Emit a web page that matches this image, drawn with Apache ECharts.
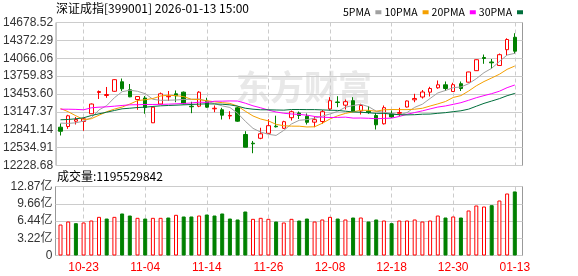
<!DOCTYPE html>
<html>
<head>
<meta charset="utf-8">
<title>深证成指</title>
<script src="https://cdn.jsdelivr.net/npm/echarts@6/dist/echarts.min.js"></script>
<style>
  html, body { margin: 0; padding: 0; background: #fff; }
  #chart { width: 578px; height: 276px; }
</style>
</head>
<body>
<div id="chart"></div>
<script>
// trading days shown on the x axis
const dates = [
  '10-20', '10-21', '10-22', '10-23', '10-24', '10-27', '10-28', '10-29', '10-30', '10-31',
  '11-03', '11-04', '11-05', '11-06', '11-07', '11-10', '11-11', '11-12', '11-13', '11-14',
  '11-17', '11-18', '11-19', '11-20', '11-21', '11-24', '11-25', '11-26', '11-27', '11-28',
  '12-01', '12-02', '12-03', '12-04', '12-05', '12-08', '12-09', '12-10', '12-11', '12-12',
  '12-15', '12-16', '12-17', '12-18', '12-19', '12-22', '12-23', '12-24', '12-25', '12-26',
  '12-29', '12-30', '12-31', '01-05', '01-06', '01-07', '01-08', '01-09', '01-12', '01-13'
]

// [open, close, lowest, highest]
const kline = [
  [12885, 12815, 12743, 12948], [12897, 13080, 12857, 13097], [12988, 13017, 12931, 13060],
  [12983, 13029, 12823, 13051], [13115, 13282, 13111, 13291], [13479, 13496, 13368, 13514],
  [13428, 13445, 13388, 13574], [13500, 13699, 13493, 13707], [13663, 13543, 13505, 13719],
  [13526, 13405, 13399, 13625], [13359, 13410, 13183, 13410], [13385, 13222, 13115, 13419],
  [12960, 13228, 12957, 13239], [13282, 13457, 13274, 13479], [13406, 13416, 13334, 13505],
  [13457, 13423, 13313, 13514], [13485, 13286, 13274, 13496], [13245, 13235, 13125, 13320],
  [13245, 13485, 13228, 13502], [13330, 13228, 13217, 13389], [13200, 13210, 13142, 13257],
  [13183, 13091, 13017, 13217], [13078, 13086, 13022, 13159], [13217, 12988, 12977, 13234],
  [12760, 12542, 12542, 12816], [12611, 12601, 12439, 12649], [12695, 12772, 12679, 12875],
  [12780, 12911, 12772, 13022], [12902, 12892, 12880, 13082], [12866, 12979, 12854, 12995],
  [13048, 13150, 13000, 13171], [13128, 13085, 13025, 13154], [13072, 12969, 12931, 13120],
  [12971, 13014, 12885, 13068], [12983, 13150, 12943, 13180], [13197, 13339, 13171, 13399],
  [13317, 13308, 13228, 13416], [13262, 13322, 13188, 13359], [13339, 13159, 13149, 13399],
  [13162, 13257, 13102, 13286], [13159, 13137, 13115, 13248], [13085, 12926, 12845, 13128],
  [12943, 13219, 12931, 13257], [13111, 13060, 13046, 13171], [13123, 13137, 13074, 13217],
  [13231, 13334, 13222, 13342], [13354, 13377, 13313, 13457], [13402, 13488, 13376, 13522],
  [13485, 13548, 13411, 13577], [13560, 13611, 13543, 13685], [13611, 13548, 13505, 13668],
  [13496, 13613, 13488, 13646], [13630, 13548, 13505, 13668], [13656, 13831, 13651, 13834],
  [13853, 14041, 13848, 14045], [14079, 14062, 13971, 14130], [14002, 13988, 13890, 14053],
  [13942, 14127, 13933, 14147], [14213, 14387, 14113, 14408], [14425, 14187, 14142, 14495]
]

// close of the session before the first one shown
const prevClose = 12790

const ma5 = [
  12955, 12950, 12960, 12990, 13045, 13181, 13254, 13390, 13493, 13518,
  13500, 13459, 13363, 13345, 13347, 13351, 13360, 13363, 13369, 13331,
  13289, 13250, 13223, 13124, 12987, 12865, 12801, 12763, 12744, 12831,
  12941, 13003, 13015, 13039, 13074, 13111, 13156, 13227, 13256, 13277,
  13237, 13160, 13140, 13120, 13096, 13135, 13225, 13279, 13377, 13472,
  13514, 13562, 13574, 13630, 13716, 13819, 13894, 14010, 14121, 14150
]
const ma10 = [
  13205, 13150, 13080, 13015, 13030, 13090, 13150, 13195, 13230, 13281,
  13340, 13356, 13376, 13419, 13433, 13425, 13409, 13363, 13357, 13339,
  13320, 13305, 13293, 13246, 13159, 13077, 13025, 12993, 12934, 12909,
  12903, 12902, 12889, 12892, 12952, 13026, 13080, 13121, 13148, 13175,
  13174, 13158, 13183, 13188, 13186, 13186, 13193, 13209, 13248, 13284,
  13325, 13394, 13426, 13504, 13594, 13667, 13728, 13792, 13876, 13933
]
const ma20 = [
  13193, 13193, 13190, 13183, 13217, 13228, 13234, 13245, 13257, 13268,
  13270, 13274, 13274, 13276, 13280, 13285, 13291, 13300, 13313, 13310,
  13330, 13331, 13335, 13333, 13296, 13251, 13217, 13178, 13145, 13124,
  13111, 13104, 13091, 13069, 13056, 13051, 13053, 13057, 13041, 13042,
  13038, 13030, 13036, 13040, 13069, 13106, 13136, 13165, 13198, 13230,
  13249, 13276, 13305, 13346, 13390, 13426, 13460, 13501, 13562, 13608
]
const ma30 = [
  13012, 13017, 13029, 13046, 13085, 13114, 13142, 13171, 13200, 13210,
  13222, 13228, 13240, 13251, 13257, 13262, 13268, 13274, 13280, 13285,
  13283, 13278, 13268, 13245, 13210, 13193, 13183, 13183, 13180, 13177,
  13188, 13188, 13186, 13186, 13181, 13176, 13172, 13159, 13146, 13141,
  13132, 13122, 13122, 13109, 13099, 13096, 13099, 13108, 13110, 13123,
  13134, 13151, 13166, 13194, 13244, 13293, 13333, 13374, 13424, 13464
]

const volumes = [
  5.78e8, 6.34e8, 6.03e8, 6.16e8, 6.53e8, 7.21e8, 6.90e8, 7.21e8, 7.84e8, 7.46e8,
  7.03e8, 6.90e8, 7.03e8, 7.03e8, 7.09e8, 7.59e8, 7.28e8, 7.28e8, 7.46e8, 7.65e8,
  7.46e8, 7.84e8, 6.90e8, 6.72e8, 8.21e8, 6.84e8, 7.03e8, 6.84e8, 6.34e8, 6.16e8,
  6.84e8, 6.53e8, 6.90e8, 6.34e8, 6.72e8, 7.21e8, 6.90e8, 6.72e8, 7.09e8, 7.09e8,
  6.34e8, 6.72e8, 6.53e8, 6.03e8, 6.53e8, 6.53e8, 6.72e8, 6.34e8, 6.53e8, 7.46e8,
  7.09e8, 7.28e8, 7.09e8, 8.40e8, 9.33e8, 9.14e8, 9.39e8, 10.26e8, 11.57e8, 1195529842
]

// axis ranges
const priceMin = 12228.68
const priceMax = 14678.52
const priceStep = 306.23
const volMax = 1287440000
const volStep = 321860000

const RED = '#ff0000'
const GREEN = '#008000'
const FONT = '"Liberation Sans", "Noto Sans CJK SC", sans-serif'
const CJK = '"Noto Sans CJK SC", sans-serif'

// geometry of the plot areas
const frameLeft = 55.5
const frameWidth = 467
const slot = 7.7
const dataLeft = 56.65
const mainTop = 22.5
const mainHeight = 143
const volTop = 186.5
const volHeight = 69

const showDate = (index) => index % 8 === 3

const volData = volumes.map((v, i) => {
  const before = i === 0 ? prevClose : kline[i - 1][1]
  const up = kline[i][1] >= before
  return {
    value: v,
    itemStyle: up
      ? { color: '#fff', borderColor: RED, borderWidth: 1 }
      : { color: GREEN, borderColor: GREEN, borderWidth: 1 }
  }
})

const chart = echarts.init(document.getElementById('chart'), null, { renderer: 'canvas' })

function maSeries(name, data, color) {
  return {
    name,
    type: 'line',
    xAxisIndex: 0,
    yAxisIndex: 0,
    data,
    symbol: 'none',
    smooth: false,
    lineStyle: { width: 1, color },
    itemStyle: { color },
    z: 4,
    silent: true
  }
}

const option = {
  animation: false,
  backgroundColor: '#fff',
  textStyle: { fontFamily: FONT },
  legend: {
    left: 338,
    top: 2,
    align: 'right',
    icon: 'rect',
    itemWidth: 6,
    itemHeight: 4,
    itemGap: 3,
    selectedMode: false,
    textStyle: { color: '#000', fontSize: 10.5, fontFamily: CJK },
    data: ['5PMA', '10PMA', '20PMA', '30PMA']
  },
  graphic: [
    {
      type: 'text',
      left: 56,
      top: 2,
      style: { text: '深证成指[399001] 2026-01-13 15:00', fill: '#000', font: '12px ' + CJK }
    },
    {
      type: 'text',
      left: 57,
      top: 170,
      style: { text: '成交量:' + volumes[volumes.length - 1], fill: '#000', font: '12px ' + CJK }
    },
    {
      type: 'text',
      left: 236,
      top: 70,
      z: -1,
      style: { text: '东方财富', fill: '#e8e8e8', font: 'bold 34px ' + CJK }
    }
  ],
  grid: [
    { left: dataLeft, top: mainTop, width: slot * dates.length, height: mainHeight },
    { left: frameLeft, top: mainTop, width: frameWidth, height: mainHeight, show: true, borderColor: '#999', borderWidth: 1, backgroundColor: 'transparent' },
    { left: dataLeft, top: volTop, width: slot * dates.length, height: volHeight },
    { left: frameLeft, top: volTop, width: frameWidth, height: volHeight, show: true, borderColor: '#999', borderWidth: 1, backgroundColor: 'transparent' }
  ],
  xAxis: [
    {
      type: 'category', gridIndex: 0, data: dates, boundaryGap: true,
      axisLine: { show: false }, axisTick: { show: false }, axisLabel: { show: false },
      splitLine: { show: true, alignWithLabel: true, interval: showDate, lineStyle: { color: '#ccc', type: [4, 3] } }
    },
    { type: 'value', gridIndex: 1, show: false },
    {
      type: 'category', gridIndex: 2, data: dates, boundaryGap: true,
      axisLine: { show: false }, axisTick: { show: false },
      axisLabel: { interval: showDate, color: RED, fontSize: 12, margin: 6, fontFamily: FONT },
      splitLine: { show: true, alignWithLabel: true, interval: showDate, lineStyle: { color: '#ccc', type: [4, 3] } }
    },
    { type: 'value', gridIndex: 3, show: false }
  ],
  yAxis: [
    { type: 'value', gridIndex: 0, min: priceMin, max: priceMax, show: false },
    {
      type: 'value', gridIndex: 1, min: priceMin, max: priceMax, interval: priceStep,
      axisLine: { show: false }, axisTick: { show: false },
      axisLabel: { color: '#333', fontSize: 12, margin: 3, formatter: (v) => v.toFixed(2) },
      splitLine: { show: true, lineStyle: { color: '#ccc', width: 1 } }
    },
    { type: 'value', gridIndex: 2, min: 0, max: volMax, show: false },
    {
      type: 'value', gridIndex: 3, min: 0, max: volMax, interval: volStep,
      axisLine: { show: false }, axisTick: { show: false },
      axisLabel: {
        color: '#333', fontSize: 12, margin: 3,
        formatter: (v) => (v === 0 ? '0' : (v / 1e8).toFixed(2) + '亿')
      },
      splitLine: { show: true, lineStyle: { color: '#ccc', width: 1 } }
    }
  ],
  series: [
    {
      name: '日K',
      type: 'candlestick',
      xAxisIndex: 0,
      yAxisIndex: 0,
      data: kline,
      barWidth: 4,
      z: 3,
      itemStyle: {
        color: '#fff',
        color0: GREEN,
        borderColor: RED,
        borderColor0: GREEN,
        borderWidth: 1
      }
    },
    maSeries('5PMA', ma5, '#a0a0a0'),
    maSeries('10PMA', ma10, '#f5a000'),
    maSeries('20PMA', ma20, '#ff00ff'),
    maSeries('30PMA', ma30, '#006f3c'),
    {
      name: '成交量',
      type: 'bar',
      xAxisIndex: 2,
      yAxisIndex: 2,
      data: volData,
      barWidth: 4,
      z: 3
    }
  ]
}

chart.setOption(option)
</script>
</body>
</html>
